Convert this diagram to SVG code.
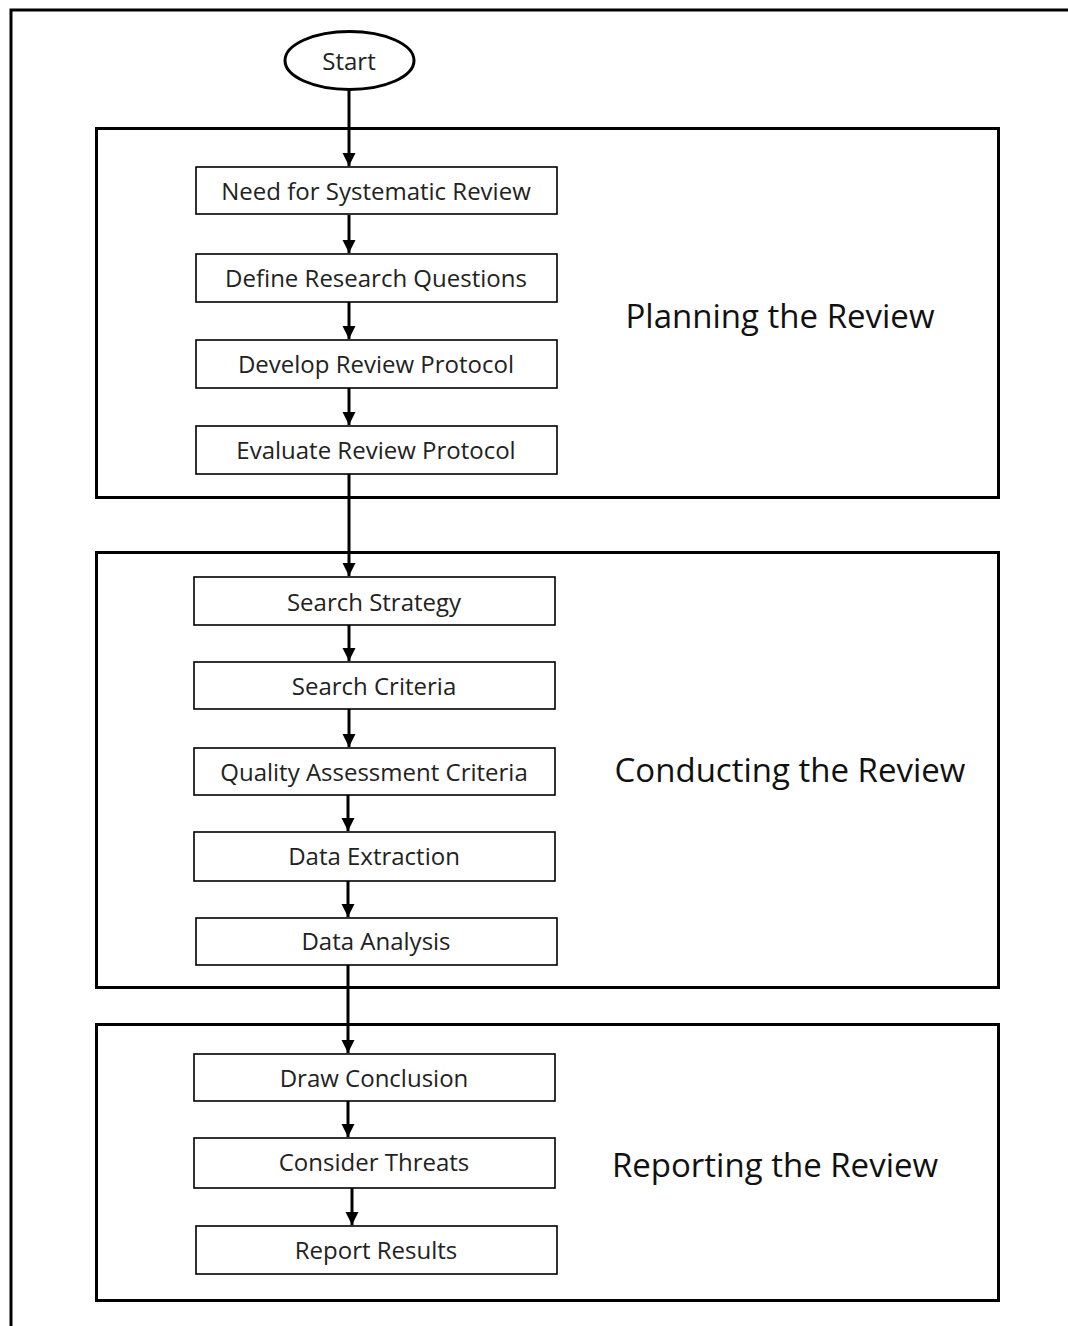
<svg xmlns="http://www.w3.org/2000/svg" width="1068" height="1326" viewBox="0 0 1068 1326">
<defs>
<style>
.frame{fill:none;stroke:#000;stroke-width:3}
.box{fill:#fff;stroke:#000;stroke-width:1.6}
.bt{font-family:"Open Sans","Liberation Sans",sans-serif;font-size:24px;fill:#222;text-anchor:middle;dominant-baseline:central}
.gt{font-family:"Open Sans","Liberation Sans",sans-serif;font-size:33px;fill:#111;text-anchor:middle;dominant-baseline:central}
.conn{stroke:#000;stroke-width:3;fill:none;marker-end:url(#ah)}
</style>
<marker id="ah" viewBox="0 0 10 10" refX="10" refY="5" markerWidth="4.4" markerHeight="4.4" orient="auto" markerUnits="strokeWidth">
<path d="M0,0 L10,5 L0,10 z" fill="#000"/>
</marker>
</defs>
<rect width="1068" height="1326" fill="#fff"/>
<path class="frame" d="M11,1326 L11,10 L1068,10"/>
<g id="group-planning">
<rect class="frame" x="96.5" y="128.5" width="902" height="369"/>
<text class="gt" x="780" y="315">Planning the Review</text>
</g>
<g id="group-conducting">
<rect class="frame" x="96.5" y="552.5" width="902" height="435"/>
<text class="gt" x="790" y="769">Conducting the Review</text>
</g>
<g id="group-reporting">
<rect class="frame" x="96.5" y="1024.5" width="902" height="276"/>
<text class="gt" x="775" y="1164">Reporting the Review</text>
</g>
<g id="connectors">
<line class="conn" x1="349" y1="90" x2="349" y2="166"/>
<line class="conn" x1="349" y1="215" x2="349" y2="253"/>
<line class="conn" x1="349" y1="302" x2="349" y2="339"/>
<line class="conn" x1="349" y1="388" x2="349" y2="425"/>
<line class="conn" x1="349" y1="474" x2="349" y2="576"/>
<line class="conn" x1="349" y1="625" x2="349" y2="661"/>
<line class="conn" x1="349" y1="709" x2="349" y2="747"/>
<line class="conn" x1="348" y1="795" x2="348" y2="831"/>
<line class="conn" x1="348" y1="881" x2="348" y2="917"/>
<line class="conn" x1="348" y1="965" x2="348" y2="1053"/>
<line class="conn" x1="348" y1="1101" x2="348" y2="1137"/>
<line class="conn" x1="352" y1="1188" x2="352" y2="1225"/>
</g>
<g id="start">
<ellipse cx="349.5" cy="60.5" rx="64.5" ry="29" fill="#fff" stroke="#000" stroke-width="3"/>
<text class="bt" x="349" y="60">Start</text>
</g>
<g id="need">
<rect class="box" x="196" y="167" width="361" height="47"/>
<text class="bt" x="376" y="190">Need for Systematic Review</text>
</g>
<g id="define">
<rect class="box" x="196" y="254" width="361" height="48"/>
<text class="bt" x="376" y="277">Define Research Questions</text>
</g>
<g id="develop">
<rect class="box" x="196" y="340" width="361" height="48"/>
<text class="bt" x="376" y="363">Develop Review Protocol</text>
</g>
<g id="evaluate">
<rect class="box" x="196" y="426" width="361" height="48"/>
<text class="bt" x="376" y="449">Evaluate Review Protocol</text>
</g>
<g id="search-strategy">
<rect class="box" x="194" y="577" width="361" height="48"/>
<text class="bt" x="374" y="601">Search Strategy</text>
</g>
<g id="search-criteria">
<rect class="box" x="194" y="662" width="361" height="47"/>
<text class="bt" x="374" y="685">Search Criteria</text>
</g>
<g id="quality">
<rect class="box" x="194" y="748" width="361" height="47"/>
<text class="bt" x="374" y="771">Quality Assessment Criteria</text>
</g>
<g id="extraction">
<rect class="box" x="194" y="832" width="361" height="49"/>
<text class="bt" x="374" y="855">Data Extraction</text>
</g>
<g id="analysis">
<rect class="box" x="196" y="918" width="361" height="47"/>
<text class="bt" x="376" y="940">Data Analysis</text>
</g>
<g id="conclusion">
<rect class="box" x="194" y="1054" width="361" height="47"/>
<text class="bt" x="374" y="1077">Draw Conclusion</text>
</g>
<g id="threats">
<rect class="box" x="194" y="1138" width="361" height="50"/>
<text class="bt" x="374" y="1161">Consider Threats</text>
</g>
<g id="report">
<rect class="box" x="196" y="1226" width="361" height="48"/>
<text class="bt" x="376" y="1249">Report Results</text>
</g>
</svg>
